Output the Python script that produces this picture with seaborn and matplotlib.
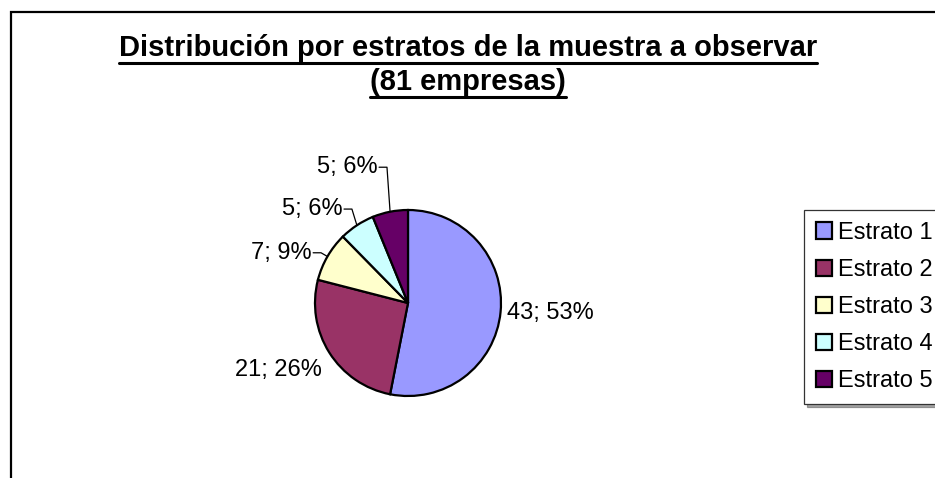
import matplotlib
matplotlib.use("Agg")
import matplotlib.pyplot as plt
from matplotlib.patches import Rectangle
from matplotlib.lines import Line2D
import numpy as np
import seaborn as sns

# ---- data ----
categories = ["Estrato 1", "Estrato 2", "Estrato 3", "Estrato 4", "Estrato 5"]
values = [43, 21, 7, 5, 5]
colors = ["#9999FF", "#993366", "#FFFFCC", "#CCFFFF", "#660066"]
title_lines = ["Distribución por estratos de la muestra a observar", "(81 empresas)"]

# ---- layout (label anchor positions in pie-radius units) ----
label_pos = [(1.065, -0.11), (-0.925, -0.72), (-1.032, 0.54), (-0.70, 1.01), (-0.323, 1.46)]
label_ha = ["left", "right", "right", "right", "right"]
has_leader = [False, False, True, True, True]

sns.set_theme(style="white")
plt.rcParams["font.family"] = ["Liberation Sans", "DejaVu Sans"]
plt.rcParams["text.color"] = "black"

W, H = 935, 478
fig = plt.figure(figsize=(W / 100, H / 100), dpi=100)
fig.patch.set_facecolor("white")

cx, cy, R = 408, 303, 93
ax = fig.add_axes([0, 0, 1, 1])
wedges, _ = ax.pie(values, colors=colors, startangle=90, counterclock=False,
                   wedgeprops=dict(edgecolor="black", linewidth=1.6), radius=1)
ax.set_xlim(-cx / R, (W - cx) / R)
ax.set_ylim(-(H - cy) / R, cy / R)
ax.axis("off")

total = sum(values)
for i, (w, v) in enumerate(zip(wedges, values)):
    txt = f"{v}; {round(v / total * 100)}%"
    x, y = label_pos[i]
    ax.text(x, y, txt, ha=label_ha[i], va="center", fontsize=17, color="black")
    if has_leader[i]:
        th = np.deg2rad((w.theta1 + w.theta2) / 2)
        ex, ey = np.cos(th), np.sin(th)
        ax.plot([x + 0.012, x + 0.097, ex], [y, y, ey], color="black", lw=0.9)

# legend
leg = fig.legend(wedges, categories, loc="upper left",
                 bbox_to_anchor=(804 / W, 1 - 210 / H), bbox_transform=fig.transFigure,
                 borderaxespad=0, fontsize=17, frameon=True, fancybox=False,
                 shadow=True, borderpad=0.5, labelspacing=0.64,
                 handlelength=0.68, handleheight=0.68, handletextpad=0.28)
leg.get_frame().set_edgecolor("#333333")
leg.get_frame().set_linewidth(0.9)
for t in leg.get_texts():
    t.set_color("black")

# outer frame
fig.patches.append(Rectangle((11 / W, -0.1), 1.2, 1.1 - 12 / H, transform=fig.transFigure,
                             fill=False, edgecolor="black", lw=1.6))

# title with underline
baselines = [56, 90]
texts = []
for line, b in zip(title_lines, baselines):
    t = fig.text(468 / W, 1 - b / H, line, ha="center", va="baseline",
                 fontsize=21, fontweight="bold", color="black")
    texts.append((t, b))
fig.canvas.draw()
r = fig.canvas.get_renderer()
for t, b in texts:
    bb = t.get_window_extent(r)
    yu = 1 - (b + 7) / H
    fig.lines.append(Line2D([bb.x0 / W, bb.x1 / W], [yu, yu], transform=fig.transFigure,
                            color="black", lw=2.2))

fig.savefig("out.png", dpi=100)
